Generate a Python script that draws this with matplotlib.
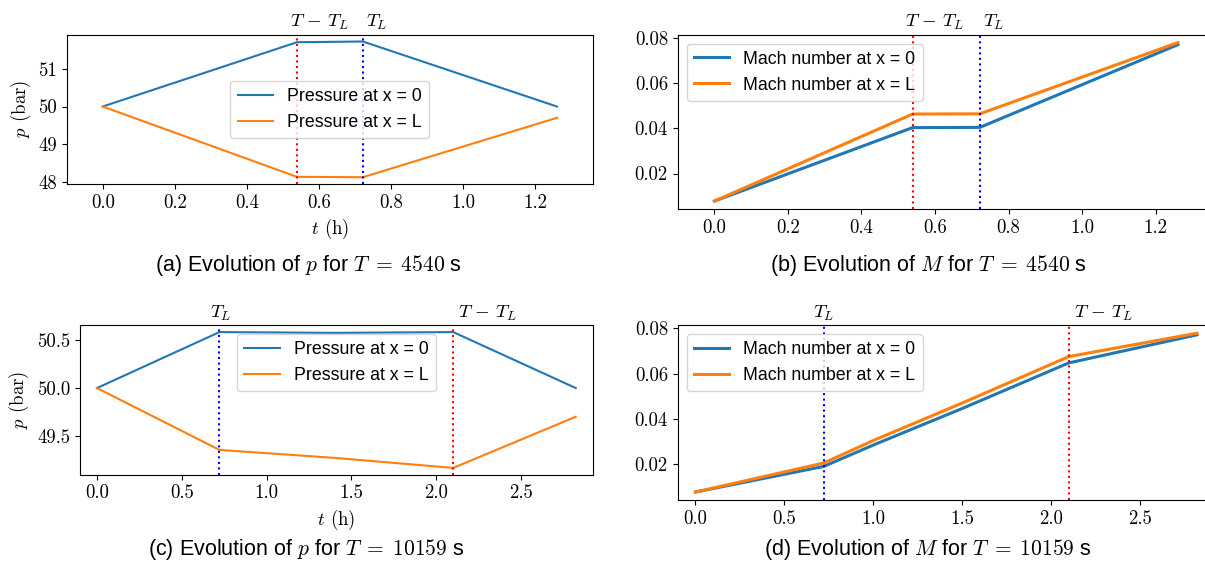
import numpy as np
import matplotlib
matplotlib.use('Agg')
import matplotlib.pyplot as plt
import matplotlib.transforms as mtransforms

plt.rcParams['mathtext.fontset'] = 'cm'
plt.rcParams['font.family'] = ['Liberation Sans', 'DejaVu Sans']
plt.rcParams['axes.unicode_minus'] = False

# times in hours
t_a = [0.0, 0.539, 0.722, 1.261]
p0_a = [50.0, 51.71, 51.73, 50.0]
pL_a = [50.0, 48.13, 48.12, 49.70]
M0_a = [0.0078, 0.0403, 0.0404, 0.0770]
ML_a = [0.0078, 0.0463, 0.0464, 0.0779]

t_c = [0.0, 0.722, 1.4, 2.100, 2.822]
p0_c = [50.0, 50.585, 50.577, 50.585, 50.0]
pL_c = [50.0, 49.353, 49.27, 49.165, 49.70]

t_d = [0.0, 0.722, 1.0, 1.5, 2.100, 2.822]
M0_d = [0.0078, 0.0191, 0.0285, 0.0446, 0.0647, 0.0771]
ML_d = [0.0078, 0.0206, 0.0305, 0.0470, 0.0675, 0.0778]

# T_L and T - T_L markers (h)
TL_a, TmTL_a, Tend_a = 0.722, 0.539, 1.261
TL_c, TmTL_c, Tend_c = 0.722, 2.100, 2.822

p_ticks_a = [48, 49, 50, 51]
p_ticks_c = [49.5, 50.0, 50.5]
M_ticks = [0.02, 0.04, 0.06, 0.08]

captions = [r'(a) Evolution of $p$ for $T\;=\;4540$ s',
            r'(b) Evolution of $M$ for $T\;=\;4540$ s',
            r'(c) Evolution of $p$ for $T\;=\;10159$ s',
            r'(d) Evolution of $M$ for $T\;=\;10159$ s']

W, H = 1205, 562
fig = plt.figure(figsize=(W/100, H/100), dpi=100)

def box(l, r, t, b):
    return [l/W, 1-b/H, (r-l)/W, (b-t)/H]

ax_a = fig.add_axes(box(66.7, 593, 34.7, 184))
ax_b = fig.add_axes(box(677.7, 1214.7, 34.7, 209))
ax_c = fig.add_axes(box(80, 592.7, 325.3, 474.7))
ax_d = fig.add_axes(box(677.7, 1214.7, 325.3, 500))

tick_fs = 13.5
leg_fs = 12.8

def marks(ax, tl, tmtl, off_tl, off_tmtl):
    ax.axvline(tmtl, color='red', ls=':', lw=1.5)
    ax.axvline(tl, color='blue', ls=':', lw=1.5)
    trans = mtransforms.blended_transform_factory(ax.transData, ax.transAxes)
    ax.annotate(r'$T\,-\,T_L$', xy=(tmtl, 1), xycoords=trans, xytext=(off_tmtl, 8.5),
                textcoords='offset points', ha='center', va='center', fontsize=13.5)
    ax.annotate(r'$T_L$', xy=(tl, 1), xycoords=trans, xytext=(off_tl, 8.5),
                textcoords='offset points', ha='center', va='center', fontsize=13.5)

# (a)
ax_a.plot(t_a, p0_a, label='Pressure at x = 0')
ax_a.plot(t_a, pL_a, label='Pressure at x = L')
marks(ax_a, TL_a, TmTL_a, 10, 16)
ax_a.set_xlim(-0.1, Tend_a + 0.1)
ax_a.set_yticks(p_ticks_a)
ax_a.legend(loc='center', fontsize=leg_fs)
ax_a.set_ylabel('$p$ (bar)', fontfamily='cmr10', fontsize=tick_fs)
ax_a.set_xlabel('$t$ (h)', fontfamily='cmr10', fontsize=tick_fs)

# (b)
ax_b.plot(t_a, M0_a, lw=2.2, label='Mach number at x = 0')
ax_b.plot(t_a, ML_a, lw=2.2, label='Mach number at x = L')
marks(ax_b, TL_a, TmTL_a, 10, 16)
ax_b.set_xlim(-0.1, Tend_a + 0.1)
ax_b.set_yticks(M_ticks)
ax_b.legend(loc='upper left', fontsize=leg_fs)

# (c)
ax_c.plot(t_c, p0_c, label='Pressure at x = 0')
ax_c.plot(t_c, pL_c, label='Pressure at x = L')
marks(ax_c, TL_c, TmTL_c, 1, 25)
ax_c.set_xlim(-0.1, Tend_c + 0.1)
ax_c.set_yticks(p_ticks_c)
ax_c.legend(loc='upper center', fontsize=leg_fs)
ax_c.set_ylabel('$p$ (bar)', fontfamily='cmr10', fontsize=tick_fs)
ax_c.set_xlabel('$t$ (h)', fontfamily='cmr10', fontsize=tick_fs)

# (d)
ax_d.plot(t_d, M0_d, lw=2.2, label='Mach number at x = 0')
ax_d.plot(t_d, ML_d, lw=2.2, label='Mach number at x = L')
marks(ax_d, TL_c, TmTL_c, 0, 25)
ax_d.set_xlim(-0.1, Tend_c + 0.1)
ax_d.set_yticks(M_ticks)
ax_d.legend(loc='upper left', fontsize=leg_fs)

for ax in (ax_a, ax_b, ax_c, ax_d):
    ax.tick_params(labelsize=tick_fs, labelfontfamily='cmr10')

cap_fs = 15.5
fig.text(308/W, 1-265/H, captions[0], ha='center', va='center', fontsize=cap_fs)
fig.text(928/W, 1-265/H, captions[1], ha='center', va='center', fontsize=cap_fs)
fig.text(306/W, 1-550/H, captions[2], ha='center', va='center', fontsize=cap_fs)
fig.text(928/W, 1-550/H, captions[3], ha='center', va='center', fontsize=cap_fs)

fig.savefig('out.png', dpi=100)
